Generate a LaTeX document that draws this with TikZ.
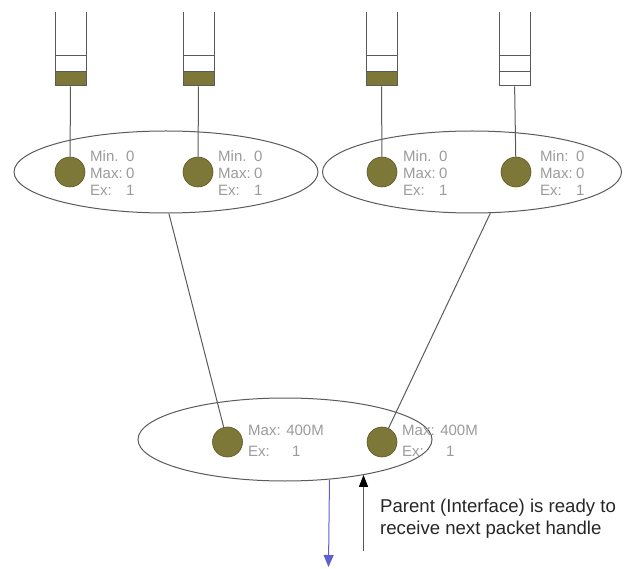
\documentclass[tikz,border=0pt]{standalone}
\usepackage{fontspec}
\setmainfont{Liberation Sans}
\usetikzlibrary{shapes.geometric,arrows.meta}
\definecolor{olivefill}{RGB}{126,120,56}
\definecolor{olivedraw}{RGB}{92,86,36}
\definecolor{linegray}{RGB}{90,90,90}
\definecolor{labelgray}{RGB}{155,155,155}
\definecolor{arrowblue}{RGB}{95,95,205}
\newcommand\kvrow[3]{\makebox[#1][l]{#2}#3}
\begin{document}
\begin{tikzpicture}[x=1pt,y=-1pt,
  wire/.style={draw=linegray, line width=1pt},
  oval/.style={ellipse, draw=linegray, line width=1pt, inner sep=0pt},
  ball/.style={circle, fill=olivefill, draw=olivedraw, line width=0.6pt, minimum size=30pt, inner sep=0pt},
  slotfull/.style={rectangle, fill=olivefill, draw=linegray, line width=1pt, minimum width=31pt, minimum height=14pt, inner sep=0pt},
  slotempty/.style={rectangle, draw=linegray, line width=1pt, minimum width=31pt, minimum height=14pt, inner sep=0pt},
  info/.style={anchor=west, text=labelgray, font=\fontsize{15}{17}\selectfont, align=left, inner sep=0pt},
  infob/.style={anchor=west, text=labelgray, font=\fontsize{15}{21}\selectfont, align=left, inner sep=0pt},
  note/.style={anchor=north west, text=black!85, font=\fontsize{18.6}{22}\selectfont, align=left, inner sep=0pt},
]
\useasboundingbox (0,0) rectangle (624,569);

% ellipses
\node[oval, minimum width=304pt, minimum height=82pt] (e1) at (166,172) {};
\node[oval, minimum width=299pt, minimum height=82pt] (e2) at (472,172) {};
\node[oval, minimum width=294pt, minimum height=83pt] (e3) at (285,439.5) {};

% queues
\foreach \x in {55,183,366,499}{
  \draw[wire] (\x,12) -- (\x,86) (\x+31,12) -- (\x+31,86) (\x,56) -- (\x+31,56);
}
\node[slotfull] (q1) at (70.5,79) {};
\node[slotfull] (q2) at (198.5,79) {};
\node[slotfull] (q3) at (381.5,79) {};
\node[slotempty] (q4) at (514.5,79) {};

% circles
\node[ball] (c1) at (70,172) {};
\node[ball] (c2) at (198,172) {};
\node[ball] (c3) at (382,172) {};
\node[ball] (c4) at (516,172) {};
\node[ball] (c5) at (227.5,442) {};
\node[ball] (c6) at (382,442) {};

% labels
\node[info] (l1) at (90,173) {\kvrow{36pt}{Min.}{0}\\\kvrow{36pt}{Max:}{0}\\\kvrow{36pt}{Ex:}{1}};
\node[info] (l2) at (218,173) {\kvrow{36pt}{Min.}{0}\\\kvrow{36pt}{Max:}{0}\\\kvrow{36pt}{Ex:}{1}};
\node[info] (l3) at (403,173) {\kvrow{36pt}{Min.}{0}\\\kvrow{36pt}{Max:}{0}\\\kvrow{36pt}{Ex:}{1}};
\node[info] (l4) at (540,173) {\kvrow{36pt}{Min:}{0}\\\kvrow{36pt}{Max:}{0}\\\kvrow{36pt}{Ex:}{1}};
\node[infob] (l5) at (248,441) {Max: 400M\\\kvrow{44pt}{Ex:}{1}};
\node[infob] (l6) at (402,441) {Max: 400M\\\kvrow{44pt}{Ex:}{1}};

% connectors
\draw[wire] (q1) -- (c1);
\draw[wire] (q2) -- (c2);
\draw[wire] (q3) -- (c3);
\draw[wire] (q4) -- (c4);
\draw[wire] (e1.-86) -- (c5);
\draw[wire] (e2.-66) -- (c6);

% output arrows
\coordinate (outdn) at (328.5,567);
\draw[draw=arrowblue, line width=1pt, -{Triangle[length=12pt,width=10pt]}] (e3.-42) -- (outdn);
\coordinate (upfrom) at (363.5,551);
\draw[wire, -{Triangle[length=12pt,width=9pt,color=black]}] (upfrom) -- (upfrom |- e3.-24);

\node[note] (txt) at (380,499) {Parent (Interface) is ready to\\receive next packet handle};
\end{tikzpicture}
\end{document}
